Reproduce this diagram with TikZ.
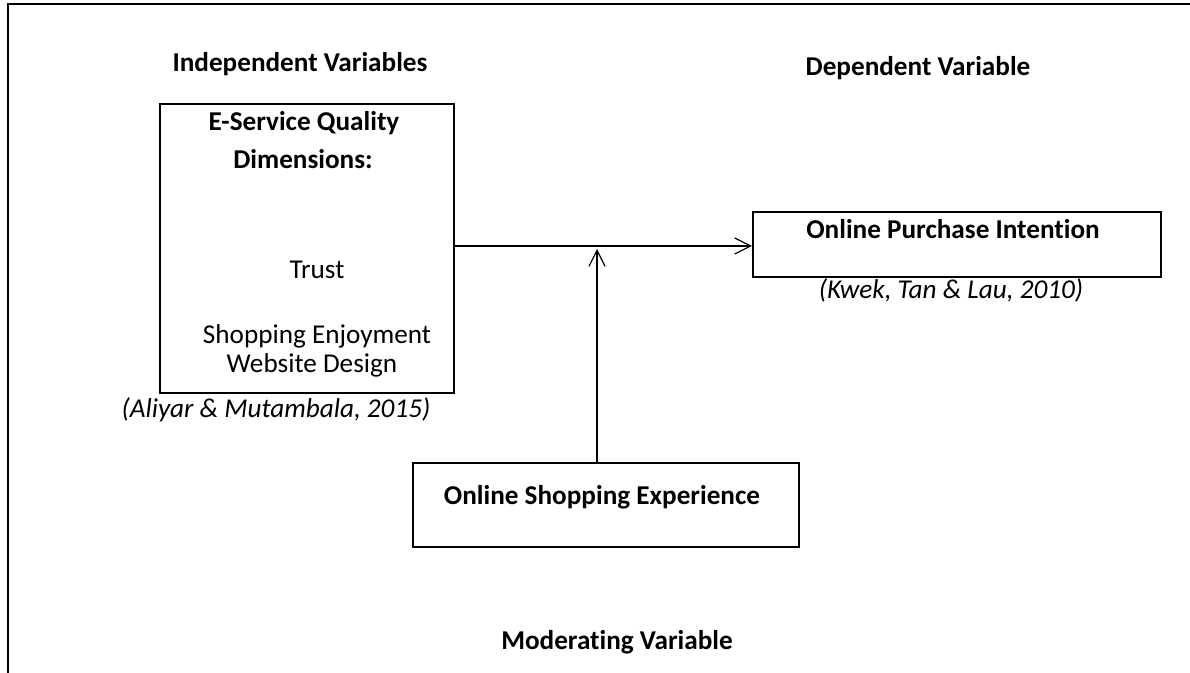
\documentclass[tikz,border=0pt]{standalone}
\usepackage{fontspec}
\setmainfont[Ligatures={NoCommon,NoContextual}, Contextuals=NoAlternate]{Carlito}
\usetikzlibrary{positioning, arrows.meta}

\begin{document}
\begin{tikzpicture}[x=0.5pt, y=-0.5pt,
                    every node/.style={font=\fontsize{13.6}{16}\selectfont, inner sep=0pt},
                    box/.style={draw, line width=1pt, rectangle},
                    head/.style={font=\fontsize{13.6}{16}\selectfont\bfseries, anchor=base},
                    item/.style={anchor=base},
                    cite/.style={font=\fontsize{13.6}{16}\selectfont\itshape, anchor=base},
                    link/.style={line width=0.6pt, -{Straight Barb[length=8pt, width=8pt, line width=0.6pt]}}]
                    \useasboundingbox (0,0) rectangle (1190,673);

                    % Frame
                    \draw[line width=1pt] (8,673) -- (8,4) -- (1190,4);

                    % Headings
                    \node[head] (indep) at (300,72) {Independent Variables};
                    \node[head] (dep) at (918,76) {Dependent Variable};
                    \node[head] (moder) at (617,650) {Moderating Variable};

                    % Boxes
                    \node[box, minimum width=147pt, minimum height=144.5pt] (esq) at (307,248.5) {};
                    \node[box, minimum width=204pt, minimum height=32.5pt] (opi) at (957,244.5) {};
                    \node[box, minimum width=193pt, minimum height=42pt] (ose) at (606,505) {};

                    % Box texts
                    \node[head] (esqa) at (304,131) {E-Service Quality};
                    \node[head] (esqb) at (303,169) {Dimensions:};
                    \node[item] (trust) at (317,279) {Trust};
                    \node[item] (enjoy) at (317,344) {Shopping Enjoyment};
                    \node[item] (web) at (312,373) {Website Design};
                    \node[head] (opit) at (953,239) {Online Purchase Intention};
                    \node[head] (oset) at (602,505) {Online Shopping Experience};

                    % Sources
                    \node[cite] (src1) at (276,418) {(Aliyar \& Mutambala, 2015)};
                    \node[cite] (src2) at (951,299) {(Kwek, Tan \& Lau, 2010)};

                    % Arrows
                    \coordinate (join) at (597,246);
                    \draw[link] (esq.east |- join) -- (opi.west |- join);
                    \draw[link] (ose.north -| join) -- ([yshift=-1.5pt]join);

                \end{tikzpicture}
\end{document}
